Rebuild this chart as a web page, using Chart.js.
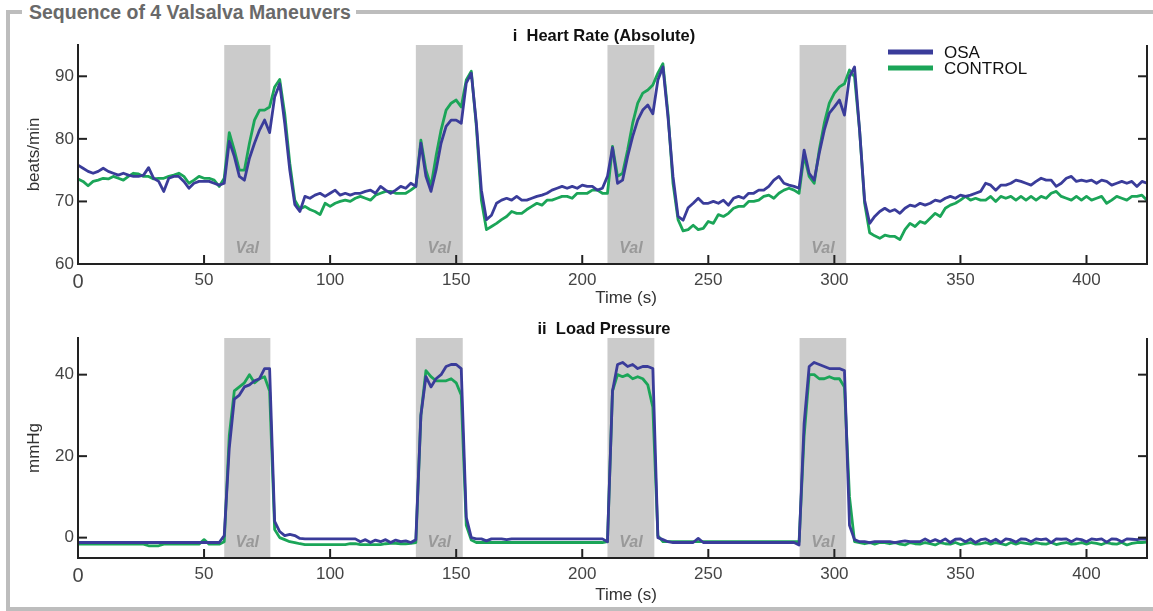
<!DOCTYPE html>
<html>
<head>
<meta charset="utf-8">
<title>Sequence of 4 Valsalva Maneuvers</title>
<script src="https://cdn.jsdelivr.net/npm/chart.js@4.4.1/dist/chart.umd.min.js"></script>
<style>
  html, body { margin: 0; padding: 0; background: #fff; }
  #figure { position: relative; width: 1153px; height: 611px; overflow: hidden; font-family: Arial, "Liberation Sans", sans-serif; }
  #frame { position: absolute; left: 6px; top: 10px; width: 1200px; height: 601px; box-sizing: border-box; border: 4px solid #bdbdbd; border-right: none; }
  #frameTitle { position: absolute; left: 22px; top: 0; padding: 0 5px 0 7px; background: #fff; color: #696969; font-weight: bold; font-size: 19.5px; line-height: 24px; white-space: nowrap; }
  canvas { position: absolute; left: 0; }
  #hr { top: 0; }
  #lp { top: 300px; }
</style>
</head>
<body>
<div id="figure">
  <div id="frame"></div>
  <div id="frameTitle">Sequence of 4 Valsalva Maneuvers</div>
  <canvas id="hr" width="1153" height="312"></canvas>
  <canvas id="lp" width="1153" height="311"></canvas>
</div>
<script>
// one sample every 2 s, starting at t = 0
var SAMPLE_S = 2;

// Valsalva strain windows (s)
var valStart = [58, 134, 210, 286.2];
var valEnd   = [76.3, 152.6, 228.6, 304.7];

var xTicks = [0, 50, 100, 150, 200, 250, 300, 350, 400];

// heart rate, beats/min
var hrOSA = [
  75.8, 75.3, 74.8, 74.5, 74.8, 75.3, 74.8, 74.5, 74.2, 74.5,
  74.2, 74.0, 74.0, 74.2, 75.4, 73.7, 73.2, 71.6, 73.7, 74.0,
  74.0, 73.2, 72.1, 72.9, 73.2, 73.2, 73.2, 72.9, 72.6, 72.9,
  79.6, 77.2, 74.0, 73.4, 76.9, 79.3, 81.4, 83.0, 81.0, 86.7,
  88.8, 82.5, 75.0, 69.5, 68.4, 70.8, 70.5, 71.0, 71.3, 70.8,
  71.3, 71.8, 71.0, 71.3, 71.0, 71.3, 71.3, 71.6, 71.8, 71.3,
  72.4, 71.8, 71.3, 71.8, 72.4, 72.1, 72.9, 72.4, 79.3, 74.0,
  71.6, 75.0, 79.3, 82.0, 83.0, 83.0, 82.5, 88.9, 90.5, 82.5,
  71.8, 67.1, 67.8, 69.7, 70.2, 70.5, 70.2, 70.8, 70.2, 70.2,
  70.5, 70.8, 71.0, 71.3, 71.8, 72.1, 72.4, 72.1, 72.4, 72.1,
  72.6, 72.4, 72.4, 71.8, 72.1, 74.0, 78.6, 72.9, 73.4, 77.2,
  80.4, 83.0, 84.6, 85.4, 84.0, 89.4, 91.5, 83.5, 74.0, 67.6,
  67.0, 69.0, 69.7, 70.5, 69.7, 69.7, 70.0, 69.7, 70.2, 69.4,
  70.5, 70.8, 70.5, 71.3, 71.3, 71.8, 71.8, 72.4, 73.4, 74.0,
  72.9, 72.6, 72.4, 72.1, 78.2, 74.5, 73.4, 77.7, 81.4, 84.1,
  85.1, 86.2, 83.8, 89.9, 91.5, 81.4, 70.2, 66.5, 67.6, 68.4,
  68.9, 68.4, 68.7, 68.1, 68.9, 69.4, 69.2, 69.7, 69.4, 69.7,
  70.2, 70.0, 70.5, 70.8, 70.5, 71.0, 70.8, 71.0, 71.3, 71.6,
  72.9, 72.6, 71.8, 72.6, 72.6, 72.9, 73.4, 73.2, 72.9, 72.6,
  73.2, 73.7, 73.4, 73.4, 72.4, 72.9, 73.7, 74.0, 73.2, 73.4,
  73.2, 73.4, 72.9, 73.4, 73.2, 72.6, 72.9, 73.2, 72.9, 73.2,
  72.4, 73.2, 72.9
];
var hrControl = [
  73.6, 73.2, 72.5, 73.2, 73.4, 73.7, 73.6, 74.0, 73.7, 73.4,
  74.0, 74.5, 74.4, 74.0, 74.0, 73.6, 73.7, 73.7, 74.0, 74.2,
  74.5, 74.0, 72.9, 73.4, 74.0, 73.7, 73.7, 73.4, 72.4, 73.7,
  81.0, 78.2, 75.0, 75.0, 79.3, 83.0, 84.6, 84.6, 85.1, 88.3,
  89.5, 84.0, 76.1, 70.2, 68.8, 69.2, 68.7, 68.4, 67.9, 69.7,
  69.2, 69.7, 70.0, 70.2, 70.0, 70.5, 70.8, 70.5, 70.2, 71.0,
  71.3, 71.6, 71.6, 71.3, 71.3, 71.3, 71.8, 72.4, 79.8, 75.0,
  72.4, 77.2, 81.4, 84.6, 85.7, 86.2, 85.1, 89.4, 90.8, 82.0,
  70.2, 65.5, 66.0, 66.5, 67.1, 67.6, 68.4, 68.1, 68.1, 68.7,
  69.2, 69.7, 69.4, 70.2, 70.2, 70.5, 70.8, 70.8, 70.5, 71.3,
  71.3, 71.3, 71.8, 71.8, 71.3, 71.3, 78.8, 74.0, 74.5, 78.2,
  82.5, 85.7, 87.3, 87.8, 88.6, 90.5, 92.0, 84.1, 72.9, 67.1,
  65.3, 65.5, 66.2, 65.5, 65.7, 66.8, 66.5, 67.9, 67.6, 68.1,
  68.9, 69.2, 69.2, 70.0, 70.0, 70.2, 70.8, 71.0, 70.5, 71.3,
  71.8, 72.1, 71.8, 71.3, 77.4, 74.0, 72.9, 78.2, 82.5, 85.7,
  87.3, 88.3, 88.8, 91.0, 89.9, 81.4, 69.7, 65.0, 64.5, 64.1,
  64.6, 64.4, 64.4, 63.9, 65.5, 66.5, 66.0, 66.8, 66.5, 67.3,
  68.1, 67.6, 68.9, 69.4, 69.7, 70.2, 70.8, 70.2, 70.5, 70.2,
  70.2, 70.8, 70.0, 70.8, 70.5, 70.8, 70.2, 70.8, 70.2, 70.8,
  70.2, 70.8, 70.5, 71.3, 71.6, 70.8, 70.5, 70.2, 70.8, 70.2,
  70.8, 70.2, 70.5, 70.8, 69.7, 70.2, 70.8, 70.5, 70.2, 70.8,
  70.8, 71.0, 70.2
];

// load pressure, mmHg
var lpOSA = [
  -1.2, -1.2, -1.2, -1.2, -1.2, -1.2, -1.2, -1.2, -1.2, -1.2,
  -1.2, -1.2, -1.2, -1.2, -1.2, -1.2, -1.2, -1.2, -1.2, -1.2,
  -1.2, -1.2, -1.2, -1.2, -1.2, -1.2, -1.2, -1.2, -1.2, 0.5,
  22, 34, 35, 37, 37.5, 38.5, 39, 41.5, 41.5, 4,
  1.5, 0.5, 0.8, 0.5, -0.2, -0.3, -0.3, -0.3, -0.3, -0.3,
  -0.3, -0.3, -0.3, -0.3, -0.3, -0.3, -1.0, -0.5, -1.2, -0.6,
  -1.0, -0.5, -1.2, -0.6, -1.0, -0.8, -1.2, -0.5, 30, 39.5,
  37, 39, 40, 42, 42.5, 42.5, 41.5, 5, 0, -0.3,
  -0.3, -0.8, -0.3, -0.3, -0.3, -0.5, -0.3, -0.3, -0.3, -0.3,
  -0.3, -0.3, -0.3, -0.3, -0.3, -0.3, -0.3, -0.3, -0.3, -0.3,
  -0.3, -0.3, -0.3, -0.3, -0.3, -1.0, 36, 42.5, 43, 42,
  42.5, 41.5, 42, 42, 41.5, 0, -0.5, -1.0, -1.2, -1.2,
  -1.2, -1.2, -1.2, -0.2, -1.2, -1.2, -1.2, -1.2, -1.2, -1.2,
  -1.2, -1.2, -1.2, -1.2, -1.2, -1.2, -1.2, -1.2, -1.2, -1.2,
  -1.2, -1.2, -1.2, -1.8, 28, 42, 43, 42.5, 42, 41.5,
  41.5, 41.5, 41, 3, -0.5, -1.0, -1.0, -1.2, -1.0, -1.0,
  -1.0, -1.0, -1.2, -1.0, -0.8, -1.0, -1.0, -1.0, -0.3, -1.0,
  -0.5, -1.0, -0.3, -1.2, -0.4, -0.3, -1.0, -0.3, -1.2, -0.5,
  -0.3, -1.0, -0.4, -1.2, -0.3, -0.5, -1.1, -0.3, -0.4, -1.0,
  -0.3, -0.5, -0.3, -1.2, -0.3, -0.4, -0.3, -1.0, -0.3, -0.5,
  -1.0, -0.3, -0.5, -0.3, -1.1, -0.3, -0.4, -1.0, -0.3, -0.4,
  -0.5, -0.3, -0.4
];
var lpControl = [
  -1.6, -1.6, -1.6, -1.6, -1.6, -1.6, -1.6, -1.6, -1.6, -1.6,
  -1.6, -1.6, -1.6, -1.6, -2.0, -2.0, -2.0, -1.6, -1.6, -1.6,
  -1.6, -1.6, -1.6, -1.6, -1.6, -0.5, -1.6, -1.6, -1.6, -1.0,
  25, 36, 37, 38, 40, 38, 39, 39.5, 36, 2,
  0, -0.5, -1.0, -1.2, -1.5, -1.7, -1.7, -1.7, -1.7, -1.7,
  -1.7, -1.7, -1.7, -1.7, -1.5, -1.5, -1.7, -1.7, -1.7, -1.7,
  -1.7, -1.5, -1.4, -1.4, -1.5, -1.5, -1.4, -1.2, 30, 41,
  39.5, 38.5, 38.5, 38.5, 39, 38, 35, 3, -0.6, -1.2,
  -1.2, -1.2, -1.2, -1.2, -1.2, -1.2, -1.2, -1.2, -1.2, -1.2,
  -1.2, -1.2, -1.2, -1.2, -1.2, -1.2, -1.2, -1.2, -1.2, -1.2,
  -1.2, -1.2, -1.2, -1.2, -1.2, -1.0, 36, 40, 39.5, 40,
  39, 39.5, 39, 37.5, 32, 0.5, -1.0, -1.0, -1.0, -1.0,
  -1.0, -1.0, -1.0, -1.0, -1.0, -1.0, -1.0, -1.0, -1.0, -1.0,
  -1.0, -1.0, -1.0, -1.0, -1.0, -1.0, -1.0, -1.0, -1.0, -1.0,
  -1.0, -1.0, -1.0, -1.0, 25, 40, 40, 39, 39, 39.5,
  39, 39, 37, 10, -1.0, -1.2, -1.5, -1.2, -1.6, -1.2,
  -1.2, -1.5, -1.2, -1.6, -1.8, -1.2, -1.5, -1.6, -1.2, -1.5,
  -1.8, -1.2, -1.5, -1.6, -1.2, -1.7, -1.4, -1.2, -1.6, -1.5,
  -1.2, -1.6, -1.2, -1.5, -1.8, -1.2, -1.6, -1.2, -1.4, -1.6,
  -1.2, -1.5, -1.6, -1.2, -1.7, -1.4, -1.2, -1.6, -1.5, -1.2,
  -1.6, -1.2, -1.4, -1.7, -1.2, -1.5, -1.6, -1.2, -1.8, -1.4,
  -1.2, -1.2, -1.1
];

var BLUE = '#3a3c9a';
var GREEN = '#1ba558';
var FONT = "Arial, 'Liberation Sans', sans-serif";

Chart.defaults.font.family = FONT;
Chart.defaults.color = '#444';

function series(vals) {
  return vals.map(function(v, i) { return {x: i * SAMPLE_S, y: v}; });
}

function line(ctx, x0, y0, x1, y1) {
  ctx.beginPath();
  ctx.moveTo(x0, y0);
  ctx.lineTo(x1, y1);
  ctx.stroke();
}

// grey strain bands, inward ticks, right spine, titles, legend
var panelPlugin = {
  id: 'panel',
  beforeDatasetsDraw: function(chart) {
    var ctx = chart.ctx, a = chart.chartArea, xs = chart.scales.x;
    ctx.save();
    for (var i = 0; i < valStart.length; i++) {
      var x0 = xs.getPixelForValue(valStart[i]);
      var x1 = xs.getPixelForValue(valEnd[i]);
      ctx.fillStyle = '#cbcbcb';
      ctx.fillRect(x0, a.top, x1 - x0, a.bottom - a.top);
      ctx.fillStyle = '#999';
      ctx.font = 'italic bold 16px ' + FONT;
      ctx.textAlign = 'center';
      ctx.textBaseline = 'middle';
      ctx.fillText('Val', (x0 + x1) / 2, a.bottom - 15);
    }
    ctx.restore();
  },
  afterDraw: function(chart, args, opts) {
    var ctx = chart.ctx, a = chart.chartArea;
    var xs = chart.scales.x, ys = chart.scales.y;
    ctx.save();
    ctx.strokeStyle = '#222';
    ctx.lineWidth = 2;
    line(ctx, a.right, a.top, a.right, a.bottom + 1);
    ys.ticks.forEach(function(t) {
      var py = ys.getPixelForValue(t.value);
      line(ctx, a.left, py, a.left + 9, py);
      line(ctx, a.right, py, a.right - 9, py);
    });
    xs.ticks.forEach(function(t) {
      if (t.value === 0) return;
      var px = xs.getPixelForValue(t.value);
      line(ctx, px, a.bottom, px, a.bottom - 9);
    });

    ctx.textAlign = 'center';
    ctx.textBaseline = 'middle';
    ctx.fillStyle = '#333';
    ctx.font = '17px ' + FONT;
    ctx.fillText('Time (s)', 626, opts.xTitleY);

    ctx.fillStyle = '#111';
    ctx.font = 'bold 16.5px ' + FONT;
    ctx.fillText(opts.title, 604, a.top - 9);

    if (opts.legend) {
      ctx.font = '17px ' + FONT;
      ctx.textAlign = 'left';
      chart.data.datasets.forEach(function(ds, i) {
        var y = 52 + i * 16;
        ctx.strokeStyle = ds.borderColor;
        ctx.lineWidth = 5;
        line(ctx, 888, y, 933, y);
        ctx.fillStyle = '#111';
        ctx.fillText(ds.label, 944, y + 1);
      });
    }
    ctx.restore();
  }
};

function makeChart(id, cfg) {
  return new Chart(document.getElementById(id), {
    type: 'line',
    data: {
      datasets: [
        {label: 'OSA', data: series(cfg.osa), borderColor: BLUE},
        {label: 'CONTROL', data: series(cfg.control), borderColor: GREEN}
      ]
    },
    options: {
      responsive: false,
      animation: false,
      events: [],
      layout: {padding: {top: cfg.top, right: 6, left: 0, bottom: 0}},
      elements: {
        point: {radius: 0},
        line: {borderWidth: 2.8, tension: 0, borderJoinStyle: 'round', fill: false}
      },
      scales: {
        x: {
          type: 'linear', min: 0, max: 424,
          border: {display: true, color: '#222', width: 2, z: 1},
          grid: {display: false, drawTicks: false},
          afterBuildTicks: function(s) { s.ticks = xTicks.map(function(v) { return {value: v}; }); },
          ticks: {
            padding: 6, color: '#444',
            font: function(c) { return {size: c.tick && c.tick.value === 0 ? 20 : 17}; }
          },
          afterFit: function(s) { s.height = cfg.xHeight; }
        },
        y: {
          min: cfg.yMin, max: cfg.yMax,
          border: {display: true, color: '#222', width: 2, z: 1},
          grid: {display: false, drawTicks: false},
          afterBuildTicks: function(s) { s.ticks = cfg.yTicks.map(function(v) { return {value: v}; }); },
          ticks: {padding: 4, color: '#444', font: {size: 17}},
          title: {display: true, text: cfg.yTitle, color: '#333', font: {size: 17}, padding: {top: 24, bottom: 0}},
          afterFit: function(s) { s.width = 78; }
        }
      },
      plugins: {
        legend: {display: false},
        tooltip: {enabled: false},
        panel: {title: cfg.title, legend: cfg.legend, xTitleY: cfg.xTitleY}
      }
    },
    plugins: [panelPlugin]
  });
}

makeChart('hr', {
  osa: hrOSA, control: hrControl,
  title: 'i  Heart Rate (Absolute)', legend: true,
  yMin: 60, yMax: 95, yTicks: [60, 70, 80, 90], yTitle: 'beats/min',
  top: 45, xHeight: 48, xTitleY: 298
});

makeChart('lp', {
  osa: lpOSA, control: lpControl,
  title: 'ii  Load Pressure', legend: false,
  yMin: -5, yMax: 49, yTicks: [0, 20, 40], yTitle: 'mmHg',
  top: 38, xHeight: 53, xTitleY: 295
});
</script>
</body>
</html>
